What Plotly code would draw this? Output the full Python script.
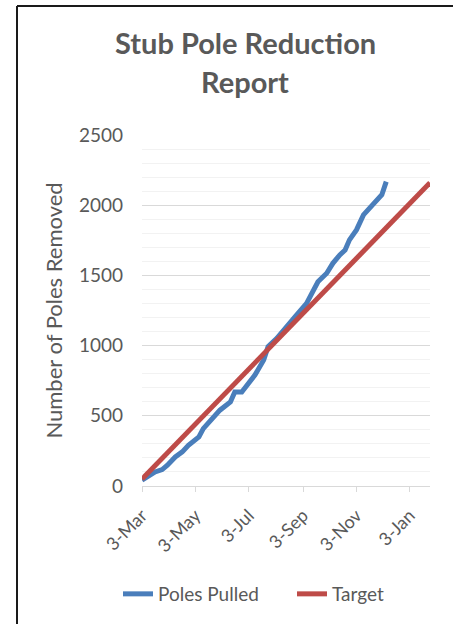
import plotly.graph_objects as go

# ---- data ----
pulled_dates = ["2014-03-03", "2014-03-18", "2014-03-26", "2014-04-01", "2014-04-10",
                "2014-04-18", "2014-04-25", "2014-05-07", "2014-05-12", "2014-05-22",
                "2014-05-31", "2014-06-12", "2014-06-17", "2014-06-25", "2014-07-03",
                "2014-07-10", "2014-07-20", "2014-07-25", "2014-08-04", "2014-08-13",
                "2014-08-25", "2014-09-07", "2014-09-15", "2014-09-20", "2014-09-30",
                "2014-10-07", "2014-10-15", "2014-10-21", "2014-10-26", "2014-11-03",
                "2014-11-11", "2014-11-18", "2014-12-02", "2014-12-07"]
pulled_values = [41, 100, 117, 148, 207, 243, 290, 350, 409, 485,
                 540, 599, 670, 670, 742, 790, 897, 992, 1051, 1123,
                 1206, 1301, 1408, 1455, 1515, 1586, 1646, 1681, 1753, 1824,
                 1931, 1979, 2074, 2168]

target_dates = ["2014-03-03", "2015-01-26"]
target_values = [50, 2160]

tick_dates = ["2014-03-03", "2014-05-03", "2014-07-03", "2014-09-03", "2014-11-03", "2015-01-03"]
tick_labels = ["3-Mar", "3-May", "3-Jul", "3-Sep", "3-Nov", "3-Jan"]

title_lines = ["Stub Pole Reduction", "Report"]
y_title = "Number of Poles Removed"

# ---- layout geometry (window pixels; body margin removed) ----
W, H = 453, 624
PL, PR, PT, PB = 142, 430, 135, 486   # plot area
L, T, R, B = PL, PT, W - PR, H - PB
pw, ph = PR - PL, PB - PT

def px_x(p):
    return (p - PL) / pw

def px_y(p):
    return (PB - p) / ph

GRAY = "#595959"
FONT = "Lato"

fig = go.Figure()
fig.add_trace(go.Scatter(x=pulled_dates, y=pulled_values, mode="lines", name="Poles Pulled",
                         line=dict(color="#4A7EBB", width=5)))
fig.add_trace(go.Scatter(x=target_dates, y=target_values, mode="lines", name="Target",
                         line=dict(color="#BE4B48", width=5)))

fig.update_layout(
    width=W, height=H,
    margin=dict(l=L, r=R, t=T, b=B, autoexpand=False),
    paper_bgcolor="white", plot_bgcolor="white",
    font=dict(family=FONT, color=GRAY, size=17),
    showlegend=True,
    legend=dict(orientation="h", x=px_x(118), xanchor="left", y=px_y(594), yanchor="middle",
                font=dict(size=19, color=GRAY), tracegroupgap=0,
                entrywidth=129, entrywidthmode="pixels"),
    xaxis=dict(
        type="date", range=["2014-03-03", "2015-01-26"],
        tickvals=tick_dates, ticktext=tick_labels, tickangle=-45,
        ticks="outside", ticklen=5, tickcolor="#d9d9d9", tickwidth=1,
        ticklabelstandoff=6,
        showgrid=False, showline=True, linecolor="#d9d9d9", linewidth=1,
        tickfont=dict(size=18, color=GRAY), zeroline=False,
    ),
    yaxis=dict(
        range=[0, 2500], dtick=500, tick0=0,
        showgrid=True, gridcolor="#d9d9d9", gridwidth=1,
        minor=dict(dtick=100, showgrid=True, gridcolor="#f2f2f2", gridwidth=1),
        showline=False, zeroline=False, ticks="",
        ticklabelstandoff=18,
        tickfont=dict(size=19, color=GRAY),
        title=dict(text=y_title, font=dict(size=22, color=GRAY), standoff=10),
    ),
)

fig.add_annotation(text="<b>%s</b>" % title_lines[0], xref="paper", yref="paper",
                   x=px_x(245), y=px_y(42), xanchor="center", yanchor="middle",
                   showarrow=False, font=dict(size=29, color=GRAY, family=FONT))
fig.add_annotation(text="<b>%s</b>" % title_lines[1], xref="paper", yref="paper",
                   x=px_x(245), y=px_y(81), xanchor="center", yanchor="middle",
                   showarrow=False, font=dict(size=29, color=GRAY, family=FONT))

# chart-area border (top and left edges visible in the crop)
fig.add_shape(type="line", xref="paper", yref="paper",
              x0=px_x(17), x1=px_x(W + 2), y0=px_y(6), y1=px_y(6),
              line=dict(color="#1a1a1a", width=2))
fig.add_shape(type="line", xref="paper", yref="paper",
              x0=px_x(17), x1=px_x(17), y0=px_y(6), y1=px_y(H + 2),
              line=dict(color="#1a1a1a", width=2))

fig.write_html("out.html", config={"displayModeBar": False},
               post_script="document.body.style.margin='0';document.body.style.overflow='hidden';")
